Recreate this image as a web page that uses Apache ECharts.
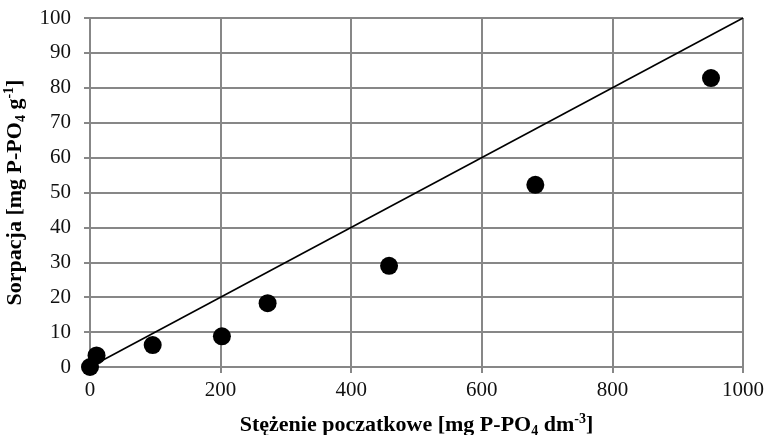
<!DOCTYPE html>
<html>
<head>
<meta charset="utf-8">
<script src="https://cdn.jsdelivr.net/npm/echarts@6/dist/echarts.min.js"></script>
<style>
  html, body { margin: 0; padding: 0; background: #fff; }
  #main { width: 770px; height: 435px; }
</style>
</head>
<body>
<div id="main"></div>
<script>
// measured points
var stezenie = [0, 10, 96, 202, 272, 458, 682, 951];
var sorpcja = [0, 3.3, 6.3, 8.8, 18.3, 29.0, 52.2, 82.8];
// reference line
var liniaX = [0, 1000];
var liniaY = [0, 100];

var points = stezenie.map(function (x, i) { return [x, sorpcja[i]]; });
var linia = liniaX.map(function (x, i) { return [x, liniaY[i]]; });

var font = 'Liberation Serif';
var gridColor = '#878787';

var titleRich = {
  b: { fontFamily: font, fontWeight: 'bold', fontSize: 22, color: '#000', lineHeight: 26 },
  sub: { fontFamily: font, fontWeight: 'bold', fontSize: 14, color: '#000', lineHeight: 17, verticalAlign: 'bottom' },
  sup: { fontFamily: font, fontWeight: 'bold', fontSize: 14, color: '#000', lineHeight: 14, verticalAlign: 'top' }
};

var chart = echarts.init(document.getElementById('main'));
var option = {
  animation: false,
  backgroundColor: '#fff',
  grid: { left: 90, right: 27, top: 18, bottom: 68, containLabel: false, outerBoundsMode: 'none' },
  xAxis: {
    type: 'value',
    min: 0, max: 1000, interval: 200,
    name: '{b|Stężenie poczatkowe [mg P-PO}{sub|4}{b| dm}{sup|-3}{b|]}',
    nameLocation: 'middle',
    nameGap: 45,
    nameTextStyle: { rich: titleRich },
    axisLine: { lineStyle: { color: gridColor, width: 2 } },
    axisTick: { show: true, length: 6, lineStyle: { color: gridColor, width: 2 } },
    axisLabel: {
      fontFamily: font, fontSize: 21, color: '#111', margin: 13,
      formatter: function (v) { return String(v); }
    },
    splitLine: { show: true, lineStyle: { color: gridColor, width: 2 } }
  },
  yAxis: {
    type: 'value',
    min: 0, max: 100, interval: 10,
    name: '{b|Sorpacja [mg P-PO}{sub|4}{b| g}{sup|-1}{b|]}',
    nameLocation: 'middle',
    nameGap: 52,
    nameRotate: 90,
    nameTextStyle: { rich: titleRich },
    axisLine: { show: true, lineStyle: { color: gridColor, width: 2 } },
    axisTick: { show: true, length: 6, lineStyle: { color: gridColor, width: 2 } },
    axisLabel: { fontFamily: font, fontSize: 21, color: '#111', margin: 19 },
    splitLine: { show: true, lineStyle: { color: gridColor, width: 2 } }
  },
  series: [
    {
      type: 'line',
      data: linia,
      symbol: 'none',
      lineStyle: { color: '#000', width: 1.6 },
      z: 3
    },
    {
      type: 'scatter',
      data: points,
      symbol: 'circle',
      symbolSize: 18,
      itemStyle: { color: '#000', opacity: 1 },
      z: 4
    }
  ]
};
chart.setOption(option);
window.addEventListener('resize', function () { chart.resize(); });
</script>
</body>
</html>
